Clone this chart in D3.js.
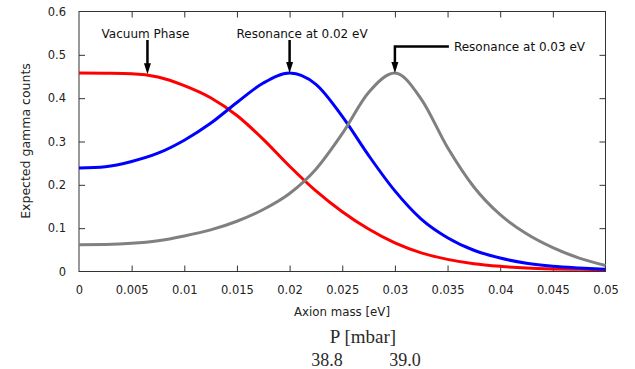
<!DOCTYPE html>
<html>
<head>
<meta charset="utf-8">
<script src="https://cdn.jsdelivr.net/npm/d3@7"></script>
<style>
  html, body { margin: 0; padding: 0; background: #fff; }
  svg { display: block; }
</style>
</head>
<body>
<svg id="chart" width="635" height="369"></svg>
<script>
// Axion mass grid [eV]
const mass = [0, 0.0025, 0.005, 0.0075, 0.01, 0.0125, 0.015, 0.0175, 0.02, 0.0225,
              0.025, 0.0275, 0.03, 0.0325, 0.035, 0.0375, 0.04, 0.0425, 0.045, 0.0475, 0.05];

// Expected gamma counts for each configuration
const vacuumPhase  = [0.458, 0.4575, 0.4565, 0.449, 0.429, 0.401, 0.360, 0.305, 0.243, 0.186,
                      0.138, 0.098, 0.066, 0.043, 0.028, 0.018, 0.012, 0.008, 0.006, 0.005, 0.004];
const resonance002 = [0.239, 0.242, 0.254, 0.273, 0.303, 0.342, 0.390, 0.435, 0.458, 0.432,
                      0.358, 0.268, 0.186, 0.121, 0.078, 0.049, 0.031, 0.019, 0.012, 0.008, 0.005];
const resonance003 = [0.062, 0.0625, 0.065, 0.071, 0.082, 0.096, 0.116, 0.143, 0.180, 0.236,
                      0.318, 0.413, 0.458, 0.398, 0.286, 0.195, 0.131, 0.087, 0.055, 0.031, 0.014];

const seriesColors = ["#ff0000", "#0000ff", "#808080"];

// Axis ticks
const massTicks  = [0, 0.005, 0.01, 0.015, 0.02, 0.025, 0.03, 0.035, 0.04, 0.045, 0.05];
const massLabels = ["0", "0.005", "0.01", "0.015", "0.02", "0.025", "0.03", "0.035", "0.04", "0.045", "0.05"];
const countTicks  = [0, 0.1, 0.2, 0.3, 0.4, 0.5, 0.6];
const countLabels = ["0", "0.1", "0.2", "0.3", "0.4", "0.5", "0.6"];

// Pressure row under the axis
const pressureTitle  = "P [mbar]";
const pressureLabels = ["38.8", "39.0"];

// Peak annotations
const annotations = [
  { label: "Vacuum Phase",          mass: 0.0065, count: 0.455 },
  { label: "Resonance at 0.02 eV",  mass: 0.02,   count: 0.458 },
  { label: "Resonance at 0.03 eV",  mass: 0.03,   count: 0.458 }
];

const svg = d3.select("#chart");
const margin = { left: 79, right: 29.5, top: 11.5, bottom: 97.5 };
const W = 635, H = 369;

const x = d3.scaleLinear().domain([0, 0.05]).range([margin.left, W - margin.right]);
const y = d3.scaleLinear().domain([0, 0.6]).range([H - margin.bottom, margin.top]);

const axisColor = "#333";
const font = "DejaVu Sans, sans-serif";

// Frame
svg.append("rect")
  .attr("x", x(0)).attr("y", y(0.6))
  .attr("width", x(0.05) - x(0)).attr("height", y(0) - y(0.6))
  .attr("fill", "none").attr("stroke", axisColor).attr("stroke-width", 1);

// Axes with inward ticks on all four sides
const tickLen = 6;
function styleAxis(g) {
  g.select(".domain").remove();
  g.selectAll(".tick line").attr("stroke", axisColor);
  g.selectAll(".tick text").attr("fill", "#222").attr("font-family", font).attr("font-size", 11.5);
}
const dropEnds = (lo, hi) => g =>
  g.selectAll(".tick").filter(d => d === lo || d === hi).select("line").remove();

svg.append("g")
  .attr("transform", `translate(0,${y(0)})`)
  .call(d3.axisBottom(x).tickValues(massTicks).tickSizeInner(-tickLen).tickSizeOuter(0)
        .tickPadding(14).tickFormat((d, i) => massLabels[i]))
  .call(styleAxis)
  .call(dropEnds(0, 0.05));

svg.append("g")
  .attr("transform", `translate(0,${y(0.6)})`)
  .call(d3.axisTop(x).tickValues(massTicks).tickSizeInner(-tickLen).tickSizeOuter(0).tickFormat(""))
  .call(styleAxis)
  .call(dropEnds(0, 0.05));

svg.append("g")
  .attr("transform", `translate(${x(0)},0)`)
  .call(d3.axisLeft(y).tickValues(countTicks).tickSizeInner(-tickLen).tickSizeOuter(0)
        .tickPadding(13).tickFormat((d, i) => countLabels[i]))
  .call(styleAxis)
  .call(dropEnds(0, 0.6));

svg.append("g")
  .attr("transform", `translate(${x(0.05)},0)`)
  .call(d3.axisRight(y).tickValues(countTicks).tickSizeInner(-tickLen).tickSizeOuter(0).tickFormat(""))
  .call(styleAxis)
  .call(dropEnds(0, 0.6));

// Curves
const line = d3.line()
  .x(d => x(d[0]))
  .y(d => y(d[1]))
  .curve(d3.curveMonotoneX);

[vacuumPhase, resonance002, resonance003].forEach((vals, k) => {
  svg.append("path")
    .datum(mass.map((m, i) => [m, vals[i]]))
    .attr("d", line)
    .attr("fill", "none")
    .attr("stroke", seriesColors[k])
    .attr("stroke-width", 3)
    .attr("stroke-linejoin", "round");
});

// Annotation arrows
const arrowTop = 40;
function arrowHead(px, py) {
  svg.append("path")
    .attr("d", `M${px},${py} L${px - 3.5},${py - 11} L${px + 3.5},${py - 11} Z`)
    .attr("fill", "#000");
}
const labelShift = [-2, 12.5];
annotations.forEach((a, i) => {
  const px = x(a.mass), py = y(a.count);
  if (i < 2) {
    svg.append("line")
      .attr("x1", px).attr("x2", px).attr("y1", arrowTop).attr("y2", py - 8)
      .attr("stroke", "#000").attr("stroke-width", 2.5);
    svg.append("text")
      .attr("x", px + labelShift[i]).attr("y", 37.5)
      .attr("text-anchor", "middle")
      .attr("font-family", font).attr("font-size", 12).attr("fill", "#111")
      .text(a.label);
  } else {
    const elbowY = 46.5;
    svg.append("path")
      .attr("d", `M${px + 54},${elbowY} H${px} V${py - 8}`)
      .attr("fill", "none").attr("stroke", "#000").attr("stroke-width", 2.5);
    svg.append("text")
      .attr("x", px + 59).attr("y", elbowY + 4.5)
      .attr("font-family", font).attr("font-size", 12).attr("fill", "#111")
      .text(a.label);
  }
  arrowHead(px, py);
});

// Axis titles
svg.append("text")
  .attr("x", 342).attr("y", 316)
  .attr("text-anchor", "middle")
  .attr("font-family", font).attr("font-size", 11.8).attr("fill", "#222")
  .text("Axion mass [eV]");

svg.append("text")
  .attr("transform", `translate(30,141) rotate(-90)`)
  .attr("text-anchor", "middle")
  .attr("font-family", font).attr("font-size", 12.5).attr("fill", "#222")
  .text("Expected gamma counts");

// Pressure row
svg.append("text")
  .attr("x", 363).attr("y", 342.5)
  .attr("text-anchor", "middle")
  .attr("font-family", "Liberation Serif, serif").attr("font-size", 19).attr("fill", "#2b2b2b")
  .text(pressureTitle);

const pressureX = [327, 405];
pressureLabels.forEach((t, i) => {
  svg.append("text")
    .attr("x", pressureX[i]).attr("y", 366)
    .attr("text-anchor", "middle")
    .attr("font-family", "Liberation Serif, serif").attr("font-size", 18).attr("fill", "#2b2b2b")
    .text(t);
});
</script>
</body>
</html>
